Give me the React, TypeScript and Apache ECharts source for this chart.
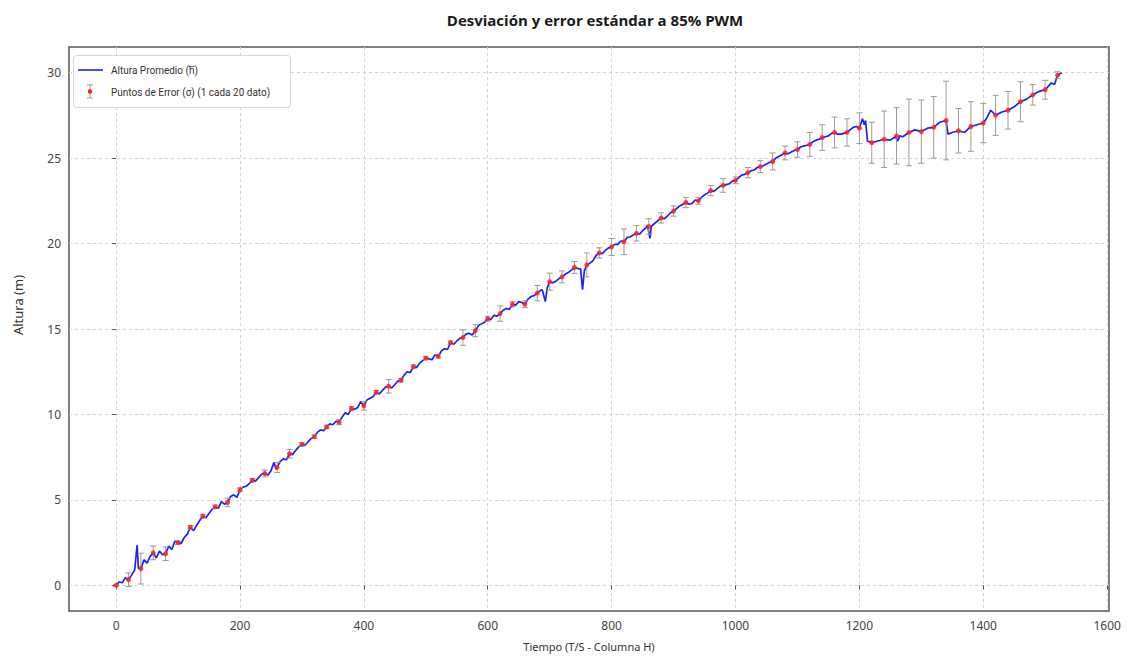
import React, { useEffect, useRef } from "react";
import * as echarts from "echarts";

const titleText = "Desviación y error estándar a 85% PWM";
const xAxisTitle = "Tiempo (T/S - Columna H)";
const yAxisTitle = "Altura (m)";
const legendLineLabel = "Altura Promedio (h\u0305)";
const legendErrLabel = "Puntos de Error (\u03C3) (1 cada 20 dato)";

const xTicks = [0, 200, 400, 600, 800, 1000, 1200, 1400, 1600];
const yTicks = [0, 5, 10, 15, 20, 25, 30];

// Blue line: mean height (x = time index, y = height)
const lineX = [
  0, 5, 10, 15, 20, 25, 30, 34, 36, 40, 45, 50, 55, 60, 65, 70, 75, 80, 85, 90, 95, 100,
  105, 110, 115, 120, 125, 130, 135, 140, 145, 150, 155, 160, 165, 170, 175, 180, 185, 190, 195, 200,
  205, 210, 215, 220, 225, 230, 235, 240, 245, 250, 255, 258, 260, 265, 270, 275, 280, 285, 290, 295, 300,
  305, 310, 315, 320, 325, 330, 335, 340, 345, 350, 355, 360, 365, 370, 375, 380, 385, 390, 395, 400,
  405, 410, 415, 420, 425, 430, 435, 440, 445, 450, 455, 460, 465, 470, 475, 480, 485, 490, 495, 500,
  505, 510, 515, 520, 525, 530, 535, 540, 545, 550, 555, 560, 565, 570, 575, 580, 585, 590, 595, 600,
  605, 610, 615, 620, 625, 630, 635, 640, 645, 650, 655, 660, 665, 670, 675, 680, 685, 688, 693, 696, 700,
  705, 710, 715, 720, 725, 730, 735, 740, 745, 750, 753, 756, 760, 765, 770, 775, 780, 785, 790, 795, 800,
  805, 810, 815, 820, 825, 830, 835, 840, 845, 850, 855, 858, 862, 864, 870, 875, 880, 885, 890, 895, 900,
  905, 910, 915, 920, 925, 930, 935, 940, 945, 950, 955, 960, 965, 970, 975, 980, 985, 990, 995, 1000,
  1005, 1010, 1015, 1020, 1025, 1030, 1035, 1040, 1045, 1050, 1055, 1060, 1065, 1070, 1075, 1080, 1085, 1090, 1095, 1100,
  1105, 1110, 1115, 1120, 1125, 1130, 1135, 1140, 1145, 1150, 1155, 1160, 1165, 1170, 1175, 1180, 1185, 1190, 1195, 1200,
  1205, 1208, 1210, 1213, 1220, 1230, 1240, 1250, 1258, 1262, 1265, 1270, 1280, 1290, 1300, 1310, 1320, 1330, 1340,
  1343, 1350, 1360, 1370, 1380, 1390, 1400, 1405, 1412, 1420, 1430, 1440, 1450, 1460, 1470, 1480, 1490, 1500, 1510, 1515, 1520, 1527,
];
const lineY = [
  0, 0.2, 0.15, 0.45, 0.33, 0.6, 0.9, 2.35, 1.0, 0.98, 1.5, 1.3, 1.7, 1.9, 1.6, 2.0, 1.8, 1.85, 2.3, 2.1, 2.6, 2.5,
  2.45, 2.8, 3.0, 3.4, 3.2, 3.5, 3.8, 4.05, 3.95, 4.2, 4.45, 4.6, 4.5, 4.9, 4.75, 4.85, 5.2, 5.3, 5.15, 5.6,
  5.75, 5.8, 5.95, 6.15, 6.1, 6.3, 6.5, 6.55, 6.45, 6.7, 7.2, 6.8, 6.9, 7.25, 7.4, 7.35, 7.7, 7.65, 7.9, 8.1, 8.25,
  8.2, 8.4, 8.6, 8.7, 8.95, 9.1, 9.05, 9.27, 9.45, 9.4, 9.6, 9.55, 9.85, 10.1, 10.0, 10.35, 10.3, 10.4, 10.75, 10.5,
  10.85, 10.95, 11.05, 11.3, 11.2, 11.4, 11.6, 11.65, 11.55, 11.75, 11.95, 12.0, 12.3, 12.5, 12.45, 12.8, 12.75, 13.0, 13.15, 13.3,
  13.25, 13.2, 13.5, 13.4, 13.7, 13.85, 13.8, 14.2, 14.1, 14.3, 14.45, 14.5, 14.7, 14.75, 14.65, 14.9, 15.2, 15.3, 15.4, 15.6,
  15.55, 15.8, 15.75, 15.9, 16.1, 16.2, 16.15, 16.45, 16.4, 16.6, 16.55, 16.45, 16.75, 16.9, 16.95, 17.1, 17.25, 17.3, 16.6, 17.4, 17.77,
  17.7, 17.8, 17.95, 18.05, 18.2, 18.3, 18.45, 18.6, 18.55, 18.5, 17.3, 18.4, 18.75, 18.85, 19.0, 19.3, 19.45, 19.4, 19.6, 19.75, 19.8,
  19.95, 19.95, 20.15, 20.1, 20.35, 20.4, 20.5, 20.6, 20.55, 20.75, 20.9, 21.05, 20.3, 21.0, 21.2, 21.35, 21.5, 21.45, 21.6, 21.8, 21.9,
  22.05, 22.2, 22.3, 22.4, 22.3, 22.35, 22.55, 22.5, 22.7, 22.85, 22.95, 23.1, 23.05, 23.2, 23.35, 23.4, 23.45, 23.5, 23.65, 23.7,
  23.85, 24.0, 24.05, 24.15, 24.25, 24.3, 24.45, 24.5, 24.55, 24.65, 24.75, 24.8, 25.0, 25.1, 25.2, 25.3, 25.25, 25.35, 25.45, 25.5,
  25.65, 25.7, 25.75, 25.8, 25.95, 26.05, 26.1, 26.2, 26.25, 26.3, 26.45, 26.5, 26.4, 26.4, 26.45, 26.5, 26.65, 26.8, 26.85, 26.75,
  27.3, 26.95, 27.2, 26.0, 25.9, 26.0, 26.1, 26.05, 26.25, 26.0, 26.3, 26.25, 26.5, 26.65, 26.55, 26.75, 26.8, 27.1, 27.2,
  26.4, 26.5, 26.6, 26.5, 26.85, 26.95, 27.05, 27.3, 27.8, 27.5, 27.7, 27.8, 28.0, 28.3, 28.45, 28.7, 28.9, 29.0, 29.4, 29.3, 29.85, 30.0,
];

// Error points: one every 20 samples
const errX = [
  0, 20, 40, 60, 80, 100, 120, 140, 160, 180, 200, 220, 240, 260, 280, 300, 320, 340, 360, 380,
  400, 420, 440, 460, 480, 500, 520, 540, 560, 580, 600, 620, 640, 660, 680, 700, 720, 740, 760, 780,
  800, 820, 840, 860, 880, 900, 920, 940, 960, 980, 1000, 1020, 1040, 1060, 1080, 1100, 1120, 1140, 1160, 1180,
  1200, 1220, 1240, 1260, 1280, 1300, 1320, 1340, 1360, 1380, 1400, 1420, 1440, 1460, 1480, 1500, 1520,
];
const errMean = [
  0.0, 0.33, 0.98, 1.9, 1.85, 2.5, 3.4, 4.05, 4.6, 4.85, 5.6, 6.15, 6.55, 6.9, 7.7, 8.25, 8.7, 9.27, 9.55, 10.35,
  10.5, 11.3, 11.65, 12.0, 12.8, 13.3, 13.4, 14.2, 14.5, 14.9, 15.6, 15.9, 16.45, 16.45, 17.1, 17.77, 18.05, 18.6, 18.75, 19.45,
  19.8, 20.1, 20.6, 21.0, 21.5, 21.9, 22.4, 22.5, 23.1, 23.4, 23.7, 24.15, 24.5, 24.8, 25.3, 25.5, 25.8, 26.2, 26.5, 26.5,
  26.75, 25.9, 26.1, 26.3, 26.5, 26.55, 26.8, 27.2, 26.6, 26.85, 27.05, 27.5, 27.8, 28.3, 28.7, 29.0, 29.85,
];
const errStd = [
  0.05, 0.4, 0.9, 0.4, 0.4, 0.1, 0.1, 0.1, 0.1, 0.25, 0.1, 0.1, 0.2, 0.3, 0.25, 0.1, 0.1, 0.1, 0.15, 0.1,
  0.25, 0.1, 0.4, 0.1, 0.1, 0.1, 0.1, 0.1, 0.45, 0.35, 0.15, 0.45, 0.15, 0.2, 0.45, 0.5, 0.35, 0.35, 0.7, 0.3,
  0.5, 0.75, 0.45, 0.45, 0.3, 0.3, 0.3, 0.2, 0.3, 0.4, 0.2, 0.3, 0.35, 0.5, 0.4, 0.45, 0.7, 0.75, 0.9, 0.8,
  0.9, 1.2, 1.65, 1.65, 1.95, 1.85, 1.8, 2.3, 1.3, 1.45, 1.15, 1.17, 1.1, 1.17, 0.6, 0.55, 0.2,
];

const FONT = "'Noto Sans', 'DejaVu Sans', sans-serif";

export default function App() {
  const ref = useRef<HTMLDivElement>(null);
  useEffect(() => {
    document.body.style.margin = "0";
    if (!ref.current) return;
    const chart = echarts.init(ref.current, null, { renderer: "svg" });
    const lineData = lineX.map((x, i) => [x, lineY[i]]);
    const errData = errX.map((x, i) => [x, errMean[i], errStd[i]]);
    const gridColor = "#d4d4d4";
    chart.setOption({
      animation: false,
      backgroundColor: "#ffffff",
      textStyle: { fontFamily: FONT },
      title: {
        text: titleText,
        left: 590,
        top: 7,
        textAlign: "center",
        textStyle: { fontFamily: "'Open Sans', sans-serif", fontSize: 15, fontWeight: "bold", color: "#1a1a1a" },
      },
      grid: {
        left: 69,
        right: 20,
        top: 47,
        bottom: 46,
        show: true,
        borderColor: "#555555",
        borderWidth: 1.5,
        backgroundColor: "transparent",
      },
      xAxis: {
        type: "value",
        min: -76,
        max: 1603,
        name: xAxisTitle,
        nameLocation: "middle",
        nameGap: 30,
        nameTextStyle: { fontSize: 11, color: "#333", fontFamily: FONT },
        axisLine: { show: false },
        axisTick: { show: true, length: 4, lineStyle: { color: "#555" }, customValues: xTicks },
        axisLabel: {
          customValues: xTicks,
          fontSize: 12,
          color: "#444",
          margin: 8,
          fontFamily: FONT,
          formatter: (v: number) => String(v),
        },
        splitLine: { show: true, lineStyle: { color: gridColor, type: [3, 3], width: 1 } },
      },
      yAxis: {
        type: "value",
        min: -1.5,
        max: 31.5,
        axisLine: { show: false },
        axisTick: { show: true, length: 4, lineStyle: { color: "#555" }, customValues: yTicks },
        axisLabel: {
          customValues: yTicks,
          fontSize: 12,
          color: "#444",
          margin: 8,
          fontFamily: FONT,
          formatter: (v: number) => String(v),
        },
        splitLine: { show: true, lineStyle: { color: gridColor, type: [3, 3], width: 1 } },
      },
      series: [
        {
          name: legendLineLabel,
          type: "line",
          data: lineData,
          showSymbol: false,
          symbol: "none",
          lineStyle: { color: "#2020f0", width: 1.7 },
          z: 2,
        },
        {
          name: "errorbars",
          type: "custom",
          data: errData,
          encode: { x: 0, y: 1 },
          z: 3,
          renderItem: (params: any, api: any) => {
            const x = api.value(0);
            const y = api.value(1);
            const e = api.value(2);
            const top = api.coord([x, y + e]);
            const bot = api.coord([x, y - e]);
            const cw = 3;
            const st = { stroke: "#9a9a9a", lineWidth: 1 };
            return {
              type: "group",
              children: [
                { type: "line", shape: { x1: top[0], y1: top[1], x2: bot[0], y2: bot[1] }, style: st },
                { type: "line", shape: { x1: top[0] - cw, y1: top[1], x2: top[0] + cw, y2: top[1] }, style: st },
                { type: "line", shape: { x1: bot[0] - cw, y1: bot[1], x2: bot[0] + cw, y2: bot[1] }, style: st },
              ],
            };
          },
        },
        {
          name: legendErrLabel,
          type: "scatter",
          data: errData.map((d) => [d[0], d[1]]),
          symbol: "circle",
          symbolSize: 5,
          itemStyle: { color: "#ff1a1a" },
          z: 4,
        },
      ],
      graphic: [
        {
          type: "text",
          x: 18,
          y: 305,
          rotation: Math.PI / 2,
          style: {
            text: yAxisTitle,
            fontSize: 13,
            fill: "#333",
            fontFamily: FONT,
            textAlign: "center",
            textVerticalAlign: "middle",
          },
        },
        {
          type: "rect",
          shape: { x: 73.5, y: 55.5, width: 217, height: 52, r: 3 },
          style: { fill: "rgba(255,255,255,0.85)", stroke: "#d8d8d8", lineWidth: 1 },
          z: 10,
        },
        {
          type: "line",
          shape: { x1: 78, y1: 70, x2: 103, y2: 70 },
          style: { stroke: "#2020f0", lineWidth: 1.6 },
          z: 11,
        },
        {
          type: "text",
          x: 111,
          y: 70,
          style: { text: legendLineLabel, fontSize: 10, fill: "#333", fontFamily: "Roboto, sans-serif", textVerticalAlign: "middle" },
          z: 11,
        },
        {
          type: "line",
          shape: { x1: 90, y1: 85, x2: 90, y2: 98 },
          style: { stroke: "#9a9a9a", lineWidth: 1 },
          z: 11,
        },
        {
          type: "line",
          shape: { x1: 87, y1: 85, x2: 93, y2: 85 },
          style: { stroke: "#9a9a9a", lineWidth: 1 },
          z: 11,
        },
        {
          type: "line",
          shape: { x1: 87, y1: 98, x2: 93, y2: 98 },
          style: { stroke: "#9a9a9a", lineWidth: 1 },
          z: 11,
        },
        {
          type: "circle",
          shape: { cx: 90, cy: 91.5, r: 2.2 },
          style: { fill: "#ff1a1a" },
          z: 12,
        },
        {
          type: "text",
          x: 111,
          y: 92,
          style: { text: legendErrLabel, fontSize: 10, fill: "#333", fontFamily: "Roboto, sans-serif", textVerticalAlign: "middle" },
          z: 11,
        },
      ],
    });
    return () => chart.dispose();
  }, []);
  return (
    <div
      ref={ref}
      style={{ position: "absolute", left: 0, top: 0, width: 1129, height: 657, background: "#fff" }}
    />
  );
}
